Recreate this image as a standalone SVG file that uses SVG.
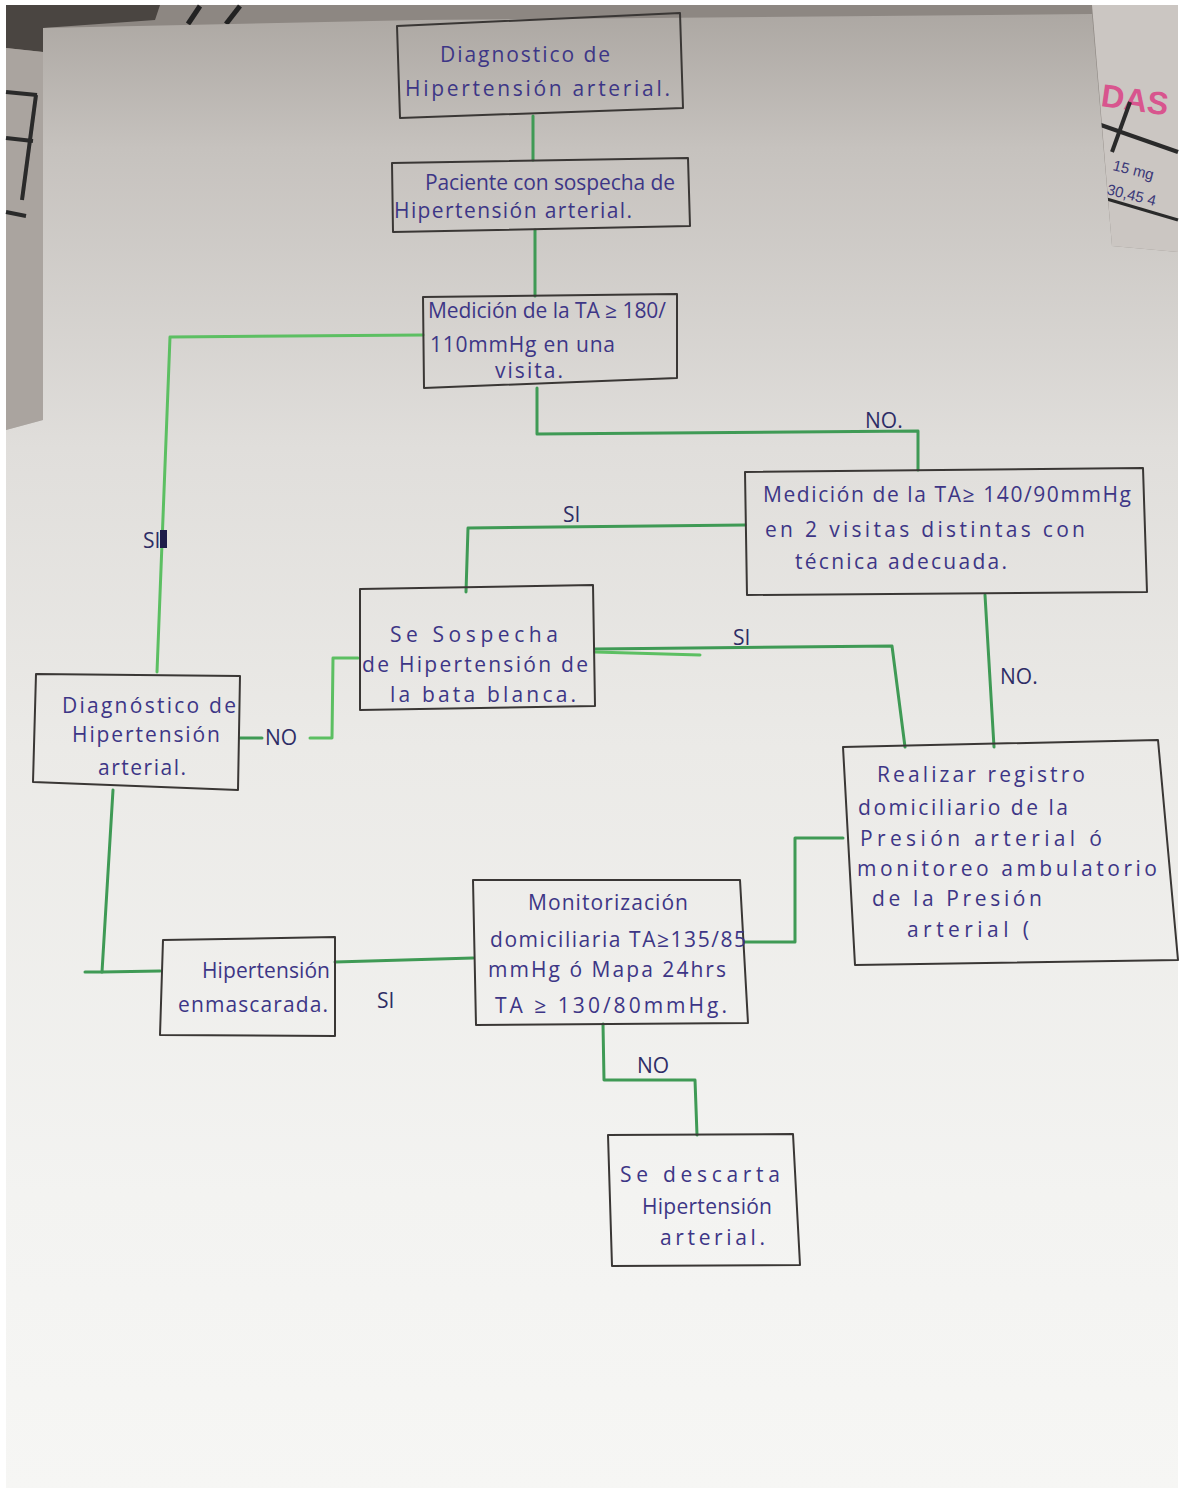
<svg xmlns="http://www.w3.org/2000/svg" width="1183" height="1492" viewBox="0 0 1183 1492">
<defs>
<linearGradient id="paper" gradientUnits="userSpaceOnUse" x1="0" y1="0" x2="0" y2="1492">
<stop offset="0" stop-color="#aaa5a0"/>
<stop offset="0.1" stop-color="#c6c2be"/>
<stop offset="0.3" stop-color="#e0dedb"/>
<stop offset="0.5" stop-color="#ebeae7"/>
<stop offset="0.8" stop-color="#f3f3f1"/>
<stop offset="1" stop-color="#f6f6f4"/>
</linearGradient>
<style>
.box{fill:none;stroke:#3a3735;stroke-width:2;stroke-linejoin:round}
.t{font-family:"Open Sans","Liberation Sans",sans-serif;fill:#3d3686;font-size:21px}
.lbl{font-family:"Open Sans","Liberation Sans",sans-serif;fill:#2e2d66;font-size:21px}
.c{fill:none;stroke:#3f9a55;stroke-width:3;stroke-linejoin:round;stroke-linecap:round}
.cl{fill:none;stroke:#5cbf62;stroke-width:3;stroke-linejoin:round;stroke-linecap:round}
</style>
</defs>
<g id="background">
<rect x="0" y="0" width="1183" height="1492" fill="#ffffff"/>
<rect x="6" y="5" width="1172" height="1483" fill="#8d8782"/>
<polygon points="6,5 160,5 155,20 43,28 43,52 6,48" fill="#4a4541"/>
<line x1="200" y1="6" x2="188" y2="24" stroke="#222" stroke-width="5"/>
<line x1="240" y1="6" x2="226" y2="24" stroke="#222" stroke-width="5"/>
<polygon points="6,48 43,52 43,420 6,430" fill="#aaa49f"/>
<line x1="6" y1="92" x2="37" y2="95" stroke="#2a2a2a" stroke-width="4"/>
<line x1="36" y1="95" x2="22" y2="200" stroke="#2a2a2a" stroke-width="4"/>
<line x1="6" y1="138" x2="33" y2="141" stroke="#2a2a2a" stroke-width="4"/>
<line x1="6" y1="212" x2="26" y2="216" stroke="#2a2a2a" stroke-width="4"/>
<polygon points="1092,5 1178,5 1178,252 1112,246" fill="#cbc6c2"/>
<text x="1100" y="106" font-family="Liberation Sans,sans-serif" font-weight="bold" font-size="32" fill="#d8558e" transform="rotate(8 1100 106)">DAS</text>
<line x1="1098" y1="124" x2="1178" y2="152" stroke="#2a2a2a" stroke-width="4"/>
<line x1="1130" y1="102" x2="1112" y2="152" stroke="#2a2a2a" stroke-width="4"/>
<line x1="1100" y1="197" x2="1178" y2="220" stroke="#2a2a2a" stroke-width="3"/>
<text x="1112" y="170" font-family="Liberation Sans,sans-serif" font-size="15" fill="#3a3878" transform="rotate(14 1112 170)">15 mg</text>
<text x="1106" y="194" font-family="Liberation Sans,sans-serif" font-size="15" fill="#3a3878" transform="rotate(14 1106 194)">30,45 4</text>
<polygon points="43,28 420,20 1092,14 1112,246 1178,252 1178,1488 6,1488 6,430 43,420" fill="url(#paper)"/>
</g>
<g id="connectors">
<polyline class="c" points="533,116 533,160"/>
<polyline class="c" points="535,230 535,296"/>
<polyline class="cl" points="423,335 170,337 157,672"/>
<polyline class="c" points="537,388 537,434 918,431 918,470"/>
<polyline class="c" points="745,525 468,528 466,592"/>
<polyline class="c" points="595,649 892,646 905,747"/>
<polyline class="cl" points="595,652 700,655"/>
<polyline class="c" points="985,595 994,747"/>
<polyline class="c" points="240,738 262,738"/>
<polyline class="cl" points="310,738 332,738 333,658 358,658"/>
<polyline class="c" points="113,790 102,972 160,971"/>
<polyline class="c" points="85,972 102,972"/>
<polyline class="c" points="335,962 473,958"/>
<polyline class="c" points="745,942 795,942 795,838 843,838"/>
<polyline class="c" points="603,1024 604,1080 695,1080 697,1135"/>
<text class="lbl" x="143" y="548">SI</text>
<rect x="160" y="530" width="7" height="18" fill="#1e1d4a"/>
<text class="lbl" x="865" y="428">NO.</text>
<text class="lbl" x="563" y="522">SI</text>
<text class="lbl" x="733" y="645">SI</text>
<text class="lbl" x="1000" y="684">NO.</text>
<text class="lbl" x="265" y="745">NO</text>
<text class="lbl" x="377" y="1008" font-size="27">SI</text>
<text class="lbl" x="637" y="1073">NO</text>
</g>
<g id="n1">
<polygon class="box" points="397,26 680,13 683,108 400,118"/>
<text class="t" x="440" y="62" font-size="26" textLength="170">Diagnostico de</text>
<text class="t" x="405" y="96" font-size="26" textLength="265">Hipertensión arterial.</text>
</g>
<g id="n2">
<polygon class="box" points="392,163 688,158 690,226 393,232"/>
<text class="t" x="425" y="190" font-size="19" textLength="250">Paciente con sospecha de</text>
<text class="t" x="394" y="218" font-size="20" textLength="238">Hipertensión arterial.</text>
</g>
<g id="n3">
<polygon class="box" points="423,297 677,294 677,378 424,388"/>
<text class="t" x="428" y="318" textLength="238">Medición de la TA ≥ 180/</text>
<text class="t" x="430" y="352" textLength="185">110mmHg en una</text>
<text class="t" x="495" y="378" textLength="68">visita.</text>
</g>
<g id="n4">
<polygon class="box" points="745,472 1143,468 1147,592 747,595"/>
<text class="t" x="763" y="502" font-size="23" textLength="368">Medición de la TA≥ 140/90mmHg</text>
<text class="t" x="765" y="537" font-size="23" textLength="320">en 2 visitas distintas con</text>
<text class="t" x="795" y="569" font-size="23" textLength="212">técnica adecuada.</text>
</g>
<g id="n5">
<polygon class="box" points="360,589 593,585 595,706 360,710"/>
<text class="t" x="390" y="642" font-size="22" textLength="168">Se  Sospecha</text>
<text class="t" x="362" y="672" font-size="22" textLength="226">de Hipertensión de</text>
<text class="t" x="390" y="702" font-size="22" textLength="186">la bata blanca.</text>
</g>
<g id="n6">
<polygon class="box" points="36,674 240,676 238,790 33,782"/>
<text class="t" x="62" y="713" font-size="22" textLength="174">Diagnóstico de</text>
<text class="t" x="72" y="742" font-size="22" textLength="148">Hipertensión</text>
<text class="t" x="98" y="775" font-size="22" textLength="88">arterial.</text>
</g>
<g id="n7">
<polygon class="box" points="843,747 1158,740 1178,960 855,965"/>
<text class="t" x="877" y="782" font-size="22" textLength="208">Realizar registro</text>
<text class="t" x="858" y="815" font-size="22" textLength="210">domiciliario de la</text>
<text class="t" x="860" y="846" font-size="22" textLength="242">Presión arterial ó</text>
<text class="t" x="857" y="876" font-size="22" textLength="300">monitoreo ambulatorio</text>
<text class="t" x="872" y="906" font-size="22" textLength="170">de la Presión</text>
<text class="t" x="907" y="937" font-size="22" textLength="122">arterial (</text>
</g>
<g id="n8">
<polygon class="box" points="473,880 740,880 748,1023 476,1025"/>
<text class="t" x="528" y="910" font-size="20" textLength="160">Monitorización</text>
<text class="t" x="490" y="947" font-size="20" textLength="256">domiciliaria TA≥135/85</text>
<text class="t" x="488" y="977" font-size="20" textLength="238">mmHg ó Mapa 24hrs</text>
<text class="t" x="495" y="1013" font-size="22" textLength="232">TA ≥ 130/80mmHg.</text>
</g>
<g id="n9">
<polygon class="box" points="163,940 335,937 335,1036 160,1035"/>
<text class="t" x="202" y="978" textLength="128">Hipertensión</text>
<text class="t" x="178" y="1012" textLength="150">enmascarada.</text>
</g>
<g id="n10">
<polygon class="box" points="608,1135 793,1134 800,1265 612,1266"/>
<text class="t" x="620" y="1182" font-size="27" textLength="160">Se descarta</text>
<text class="t" x="642" y="1214" font-size="22" textLength="130">Hipertensión</text>
<text class="t" x="660" y="1245" font-size="24" textLength="105">arterial.</text>
</g>
</svg>
